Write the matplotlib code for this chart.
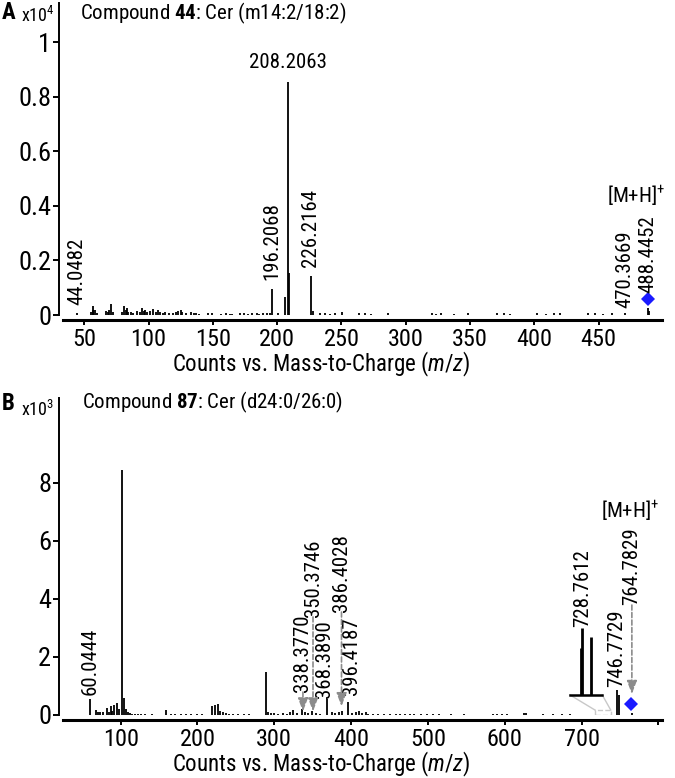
import numpy as np
import matplotlib.pyplot as plt
from matplotlib import font_manager

# -- Fonts -------------------------------------------------------------------
# the original uses a narrow sans; take one if the machine has it
entries = font_manager.fontManager.ttflist
names = {f.name for f in entries}
FONT, STRETCH = 'Liberation Sans', 'normal'
for cand in ['Liberation Sans Narrow', 'Arial Narrow', 'Roboto Condensed',
             'Open Sans Condensed', 'Noto Sans Condensed', 'DejaVu Sans Condensed']:
    if cand in names:
        FONT = cand
        break
else:
    for fam in ['Roboto', 'Noto Sans', 'Open Sans', 'Liberation Sans', 'DejaVu Sans']:
        if any(f.name == fam and f.stretch == 'condensed' for f in entries):
            FONT, STRETCH = fam, 'condensed'
            break
NARROW = (FONT != 'Liberation Sans')
plt.rcParams['font.family'] = [FONT, 'DejaVu Sans']
plt.rcParams['font.stretch'] = STRETCH
plt.rcParams['mathtext.fontset'] = 'custom'
plt.rcParams['mathtext.rm'] = FONT + ':stretch=' + STRETCH
plt.rcParams['mathtext.it'] = FONT + ':italic:stretch=' + STRETCH
plt.rcParams['mathtext.bf'] = FONT + ':bold:stretch=' + STRETCH

# -- Data: panel A (counts x10^4) ---------------------------------------------
mz_a = [44.05, 55.1, 56.5, 57.1, 58.1, 60.1, 67.1, 68.5, 69.1, 71.1, 72.1, 79.1, 81.1, 82.1,
        83.1, 84.1, 86.1, 88.1, 91.1, 93.1, 95.1, 96.1, 97.1, 99.1, 101.1, 103.1, 106.1,
        107.1, 109.1, 111.1, 113.1, 116.1, 119.1, 121.1, 123.1, 125.1, 126.1, 129.1, 133.1,
        135.1, 137.1, 139.1, 146.1, 149.1, 156.1, 160.1, 163.1, 165.1, 171.1, 174.1, 177.1,
        180.1, 184.1, 186.1, 189.1, 192.1, 194.2, 196.2068, 200.6, 206.2, 208.2063, 209.2,
        226.2164, 228.0, 233.2, 237.2, 241.2, 245.2, 250.2, 263.3, 268.3, 273.3, 286.3,
        320.3, 323.3, 327.3, 337.3, 348.5, 371.3, 376.3, 381.3, 402.3, 409.3, 415.3, 420.3,
        441.4, 447.4, 453.4, 460.4, 470.3669, 488.4452, 489.5]
int_a = [0.008, 0.012, 0.02, 0.033, 0.02, 0.006, 0.015, 0.012, 0.02, 0.04, 0.01, 0.012, 0.033,
         0.02, 0.025, 0.012, 0.01, 0.008, 0.015, 0.01, 0.025, 0.015, 0.02, 0.012, 0.015, 0.022,
         0.01, 0.018, 0.012, 0.008, 0.01, 0.006, 0.008, 0.01, 0.015, 0.018, 0.01, 0.006, 0.012,
         0.006, 0.008, 0.005, 0.006, 0.006, 0.005, 0.006, 0.005, 0.005, 0.006, 0.006, 0.005,
         0.006, 0.006, 0.005, 0.008, 0.006, 0.008, 0.095, 0.006, 0.066, 0.855, 0.153,
         0.143, 0.015, 0.006, 0.006, 0.005, 0.006, 0.012, 0.006, 0.006, 0.005, 0.006,
         0.006, 0.005, 0.006, 0.005, 0.006, 0.006, 0.006, 0.005, 0.006, 0.005, 0.006, 0.006,
         0.006, 0.006, 0.005, 0.006, 0.008, 0.025, 0.015]

# rotated peak labels in A: text, m/z, text bottom
lab_a = ['44.0482', '196.2068', '226.2164', '470.3669', '488.4452']
lab_a_mz = [44.0482, 196.2068, 226.2164, 470.3669, 488.4452]
lab_a_y = [0.037, 0.128, 0.176, 0.026, 0.080]
base_a = ('208.2063', 208.2063, 0.89)
prec_a = (488.4452, 0.057)
mh_a = (479.0, 0.395)

# -- Data: panel B (counts x10^3) ---------------------------------------------
mz_b = [60.04, 67.8, 70.4, 73.2, 76.5, 82.1, 84.6, 86.9, 89.3, 91.5, 95.2, 98.2, 102.1, 104.3,
        106.5, 109.0, 112.1, 115.0, 118.2, 122.4, 127.1, 132.3, 140.8, 159.1, 165.3, 171.1,
        178.2, 185.4, 192.2, 199.6, 206.3, 219.0, 222.4, 226.5, 229.3, 233.2, 237.0, 241.4,
        246.1, 253.4, 260.2, 267.5, 288.8, 292.0, 296.3, 300.1, 305.4, 311.2, 316.3, 320.2,
        324.6, 329.8, 336.4, 340.3, 344.1, 348.6, 354.2, 360.1, 368.2, 374.5, 378.4, 384.0,
        388.5, 396.3, 401.5, 406.2, 410.4, 414.6, 419.3, 422.1, 428.3, 435.5, 442.6, 450.3,
        458.4, 464.2, 470.3, 476.5, 482.1, 490.6, 498.2, 506.4, 514.5, 530.4, 547.6, 584.3,
        590.5, 596.1, 603.4, 624.5, 628.2, 650.3, 662.5, 674.6, 685.2, 746.77, 748.8, 765.8]
int_b = [0.55, 0.17, 0.12, 0.1, 0.12, 0.25, 0.12, 0.3, 0.15, 0.35, 0.4, 0.2, 8.45, 0.6,
         0.2, 0.1, 0.08, 0.05, 0.05, 0.05, 0.05, 0.05, 0.05, 0.17, 0.05, 0.05,
         0.05, 0.05, 0.05, 0.05, 0.05, 0.3, 0.35, 0.38, 0.15, 0.1, 0.06, 0.05,
         0.05, 0.05, 0.05, 0.05, 1.48, 0.1, 0.08, 0.06, 0.05, 0.08, 0.05, 0.1,
         0.18, 0.06, 0.2, 0.12, 0.08, 0.15, 0.06, 0.05, 0.55, 0.1, 0.08, 0.1,
         0.15, 0.46, 0.08, 0.12, 0.15, 0.08, 0.12, 0.05, 0.05, 0.05, 0.05, 0.05,
         0.05, 0.05, 0.05, 0.05, 0.05, 0.05, 0.05, 0.05, 0.05, 0.05, 0.05, 0.05,
         0.05, 0.05, 0.05, 0.07, 0.07, 0.05, 0.05, 0.05, 0.05, 0.86, 0.7, 0.06]

lab_b = ['60.0444', '368.3890', '396.4187', '728.7612', '746.7729']
lab_b_mz = [60.0444, 366.0, 400.0, 701.5, 746.2]
lab_b_y = [0.69, 0.59, 0.69, 3.02, 0.97]

# labels with dashed arrows: text, m/z, text bottom, arrow tip
arr_b = ['338.3770', '350.3746', '386.4028', '764.7829']
arr_b_mz = [337.3, 350.4, 387.5, 765.5]
arr_b_y = [0.79, 3.38, 3.55, 3.79]
arr_b_tip = [0.12, 0.12, 0.3, 0.72]

# zoomed inset around m/z 728 (baseline bar + three lines)
inset_bar = (685.0, 727.0, 0.69)
inset_mz = [698.8, 700.2, 711.9]
inset_top = [2.31, 3.0, 2.69]
inset_box = (717.5, 738.0, 0.17)

prec_b = (764.7829, 0.38)
mh_b = (763.0, 6.65)

GRAY = '#8c8c8c'
BLUE = '#1a1aff'
# a wide fallback font needs smaller sizes to keep the label widths
K = 1.0 if NARROW else 0.86
LAB = 15 * K


# styling shared by both panels
def style_axes(ax, xlim, ylim, xticks, yticks, ylabels):
    ax.set_xlim(*xlim)
    ax.set_ylim(*ylim)
    for s in ['top', 'right']:
        ax.spines[s].set_visible(False)
    ax.spines['left'].set_position(('outward', 3))
    ax.spines['bottom'].set_position(('outward', 3.6))
    ax.spines['left'].set_linewidth(1.4)
    ax.spines['bottom'].set_linewidth(2.2)
    ax.set_xticks(xticks)
    ax.set_yticks(yticks)
    ax.set_yticklabels(ylabels)
    ax.tick_params(axis='y', length=4.5, width=1.4, pad=1, labelsize=19)
    ax.tick_params(axis='x', length=3.6, width=1.4, pad=2.5, labelsize=17.5 * (1 if NARROW else 0.92))
    ax.set_xlabel('Counts vs. Mass-to-Charge ($\\mathit{m/z}$)', fontsize=16.5 * K)


fig = plt.figure(figsize=(6.75, 7.78), dpi=100)
axA = fig.add_axes([0.0933, 0.5951, 0.8874, 0.4010])
axB = fig.add_axes([0.0933, 0.0810, 0.8874, 0.4075])

# -- Panel A -----------------------------------------------------------------
axA.vlines(mz_a, 0, int_a, color='black', lw=1.3)
style_axes(axA, (33.4, 499.3), (0, 1.143), np.arange(50, 451, 50),
           [0, 0.2, 0.4, 0.6, 0.8, 1], ['0', '0.2', '0.4', '0.6', '0.8', '1'])
axA.xaxis.set_label_coords(0.431, -0.112)
for t, x, y in zip(lab_a, lab_a_mz, lab_a_y):
    axA.text(x, y, t, rotation=90, ha='center', va='bottom', fontsize=LAB)
axA.text(base_a[1], base_a[2], base_a[0], ha='center', va='bottom', fontsize=LAB)
axA.plot(prec_a[0], prec_a[1], 'D', color=BLUE, ms=7, mew=0)
axA.text(mh_a[0], mh_a[1], '[M+H]$^{+}$', ha='center', va='bottom', fontsize=LAB)

fig.text(0.003, 1 - 19 / 778, 'A', fontsize=16.5, fontweight='bold', va='baseline')
fig.text(0.031, 1 - 22 / 778, 'x10$^{4}$', fontsize=13, va='baseline')
fig.text(0.1185, 1 - 13 / 778, 'Compound $\\mathbf{44}$: Cer (m14:2/18:2)',
         fontsize=15 * K, va='center')

# -- Panel B -----------------------------------------------------------------
axB.vlines(mz_b, 0, int_b, color='black', lw=1.3)
style_axes(axB, (24.9, 804.7), (0, 10.93), np.arange(100, 701, 100),
           [0, 2, 4, 6, 8], ['0', '2', '4', '6', '8'])
axB.set_xticks([800], minor=True)
axB.tick_params(axis='x', which='minor', length=3.6, width=1.4)
axB.xaxis.set_label_coords(0.431, -0.109)

for t, x, y in zip(lab_b, lab_b_mz, lab_b_y):
    axB.text(x, y, t, rotation=90, ha='center', va='bottom', fontsize=LAB)

for t, x, y, tip in zip(arr_b, arr_b_mz, arr_b_y, arr_b_tip):
    axB.text(x, y, t, rotation=90, ha='center', va='bottom', fontsize=LAB)
    axB.annotate('', xy=(x, tip), xytext=(x, y),
                 arrowprops=dict(arrowstyle='-|>,head_length=0.8,head_width=0.3',
                                 color=GRAY, lw=1.2, ls=(0, (3, 1.5)),
                                 shrinkA=0, shrinkB=0))

# inset with connector lines to the dashed box
x0, x1, yb = inset_bar
bx0, bx1, by = inset_box
axB.plot([x0, bx0], [yb, by], color='#c8c8c8', lw=1)
axB.plot([x1, bx1], [yb, by], color='#c8c8c8', lw=1)
axB.plot([bx0, bx1, bx1, bx0, bx0], [0, 0, by, by, 0], color='#c8c8c8', lw=1, ls='--')
axB.plot([x0, x1], [yb, yb], color='black', lw=1.8)
axB.vlines(inset_mz, yb, inset_top, color='black', lw=2)

axB.plot(prec_b[0], prec_b[1], 'D', color=BLUE, ms=7, mew=0)
axB.text(mh_b[0], mh_b[1], '[M+H]$^{+}$', ha='center', va='bottom', fontsize=LAB)

fig.text(0.003, 1 - 410 / 778, 'B', fontsize=16.5, fontweight='bold', va='baseline')
fig.text(0.031, 1 - 416 / 778, 'x10$^{3}$', fontsize=13, va='baseline')
fig.text(0.1215, 1 - 402 / 778, 'Compound $\\mathbf{87}$: Cer (d24:0/26:0)',
         fontsize=15 * K, va='center')

plt.savefig('out.png', dpi=100)
